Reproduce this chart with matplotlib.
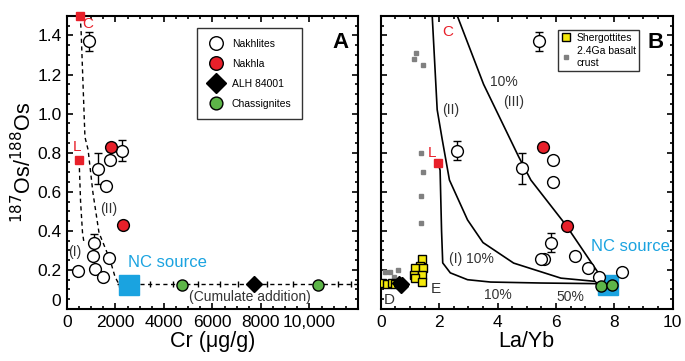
import numpy as np
import matplotlib
matplotlib.use("Agg")
import matplotlib.pyplot as plt
from matplotlib.ticker import MultipleLocator, FixedLocator, FixedFormatter

plt.rcParams['font.family'] = ['Liberation Sans', 'DejaVu Sans']

# ---------------- datos panel A (Cr vs 187Os/188Os) ----------------
nak_cr = [920, 1290, 1780, 2260, 1610, 1120, 1090, 1750, 470, 1160, 1500]
nak_os = [1.37, 0.718, 0.762, 0.81, 0.63, 0.337, 0.272, 0.26, 0.196, 0.203, 0.166]
nak_err = [0.05, 0.08, 0, 0.055, 0, 0.045, 0, 0, 0, 0, 0]
nakhla_cr = [1820, 2330]
nakhla_os = [0.827, 0.43]
nakhla_err = [0.02, 0]
alh_cr = [7730]
alh_os = [0.13]
chas_cr = [4750, 10370]
chas_os = [0.125, 0.125]
nc_cr, nc_os = 2560, 0.125
end_cr = [540, 500]
end_os = [1.5, 0.76]
curva2_cr = [540, 580, 740, 870, 1070, 1320, 1780, 1980, 2150]
curva2_os = [1.5, 1.43, 0.88, 0.815, 0.595, 0.39, 0.25, 0.165, 0.125]
curva1_cr = [500, 560, 640, 700]
curva1_os = [0.76, 0.55, 0.39, 0.34]
cumul_cr = [2050, 12000]
cumul_os = [0.128, 0.128]
marcas_cr = [2150, 3430, 4380, 5410, 6320, 7070, 8260, 9300, 11160, 11700]

# ---------------- datos panel B (La/Yb vs 187Os/188Os) ----------------
nakB_lay = [5.41, 2.62, 5.9, 4.83, 5.9, 5.83, 5.59, 5.48, 6.65, 7.1, 7.48, 8.28]
nakB_os = [1.37, 0.81, 0.76, 0.72, 0.65, 0.34, 0.255, 0.255, 0.27, 0.21, 0.165, 0.19]
nakB_err = [0.05, 0.05, 0, 0.08, 0, 0.05, 0, 0, 0, 0, 0, 0]
nakhlaB_lay = [5.55, 6.38]
nakhlaB_os = [0.83, 0.425]
chasB_lay = [7.55, 7.93]
chasB_os = [0.12, 0.125]
alhB_lay = [0.62, 0.7, 0.74]
alhB_os = [0.135, 0.12, 0.13]
sherg_lay = [0.03, 0.2, 0.37, 0.5, 1.41, 1.34, 1.17, 1.45, 1.14, 1.41, 1.17, 1.41]
sherg_os = [0.133, 0.13, 0.133, 0.128, 0.256, 0.22, 0.21, 0.21, 0.175, 0.175, 0.16, 0.138]
basalt_lay = [1.14, 1.2, 1.45, 1.38, 1.45, 1.38, 1.38, 0.14, 0.3, 0.58, 0.45]
basalt_os = [1.28, 1.31, 1.25, 0.80, 0.70, 0.58, 0.44, 0.19, 0.19, 0.2, 0.165]
ncB_lay, ncB_os = 7.8, 0.125
endB_lay = [1.97]
endB_os = [0.745]
c2_lay = [1.76, 1.93, 2.1, 2.35, 2.97, 3.5, 4.55, 6.17, 7.45, 7.75]
c2_os = [1.5, 1.02, 0.87, 0.66, 0.456, 0.34, 0.235, 0.158, 0.14, 0.13]
c1_lay = [1.97, 2.03, 2.08, 2.12, 2.38, 2.97, 3.76, 5.5, 7.3, 7.75]
c1_os = [0.745, 0.71, 0.4, 0.236, 0.185, 0.15, 0.138, 0.133, 0.13, 0.125]
c3_lay = [2.62, 3.52, 4.72, 5.14, 6.34, 7.45, 7.8]
c3_os = [1.5, 1.15, 0.78, 0.66, 0.43, 0.185, 0.15]

y_ticks = [0, 0.2, 0.4, 0.6, 0.8, 1.0, 1.2, 1.4]
y_etiq = ['0', '0.2', '0.4', '0.6', '0.8', '1.0', '1.2', '1.4']
xA_ticks = [0, 2000, 4000, 6000, 8000, 10000]
xA_etiq = ['0', '2000', '4000', '6000', '8000', '10,000']

rojo = '#e8202a'
verde = '#5db548'
cian = '#1aa3e0'
amarillo = '#f5e90c'
gris = '#808080'
texto = '#333333'

fig = plt.figure(figsize=(6.85, 3.61), dpi=100)
axA = fig.add_axes([0.0978, 0.144, 0.4248, 0.812])
axB = fig.add_axes([0.556, 0.144, 0.426, 0.812])

for ax in (axA, axB):
    ax.set_ylim(0, 1.5)
    ax.yaxis.set_major_locator(FixedLocator(y_ticks))
    ax.yaxis.set_minor_locator(MultipleLocator(0.05))
    ax.tick_params(which='both', direction='in', top=True, right=True, width=1.2)
    ax.tick_params(which='major', length=4, labelsize=12.5, pad=4)
    ax.tick_params(which='minor', length=2.5)
    for s in ax.spines.values():
        s.set_linewidth(1.5)

# ---------------- panel A ----------------
axA.set_xlim(0, 12000)
axA.xaxis.set_major_locator(FixedLocator(xA_ticks))
axA.xaxis.set_major_formatter(FixedFormatter(xA_etiq))
axA.xaxis.set_minor_locator(MultipleLocator(500))
axA.yaxis.set_major_formatter(FixedFormatter(y_etiq))
axA.yaxis.get_major_ticks()[0].label1.set_va('bottom')

axA.plot(curva2_cr, curva2_os, 'k--', lw=1, dashes=(3, 2.5), zorder=1)
axA.plot(curva1_cr, curva1_os, 'k--', lw=1, dashes=(3, 2.5), zorder=1)
axA.plot(cumul_cr, cumul_os, 'k--', lw=1, dashes=(3, 2.5), zorder=1)
axA.plot(marcas_cr, [0.128] * len(marcas_cr), 'k|', ms=5, mew=1, zorder=1)

h1 = axA.errorbar(nak_cr, nak_os, yerr=nak_err, fmt='o', mfc='white', mec='black',
                  ecolor='black', ms=8.5, mew=1, capsize=3, elinewidth=1, zorder=3)
h2 = axA.errorbar(nakhla_cr, nakhla_os, yerr=nakhla_err, fmt='o', mfc=rojo, mec='black',
                  ecolor='black', ms=8.5, mew=1, capsize=3, elinewidth=1, zorder=4)
h3, = axA.plot(alh_cr, alh_os, 'D', color='black', ms=8.5, zorder=4)
h4, = axA.plot(chas_cr, chas_os, 'o', mfc=verde, mec='black', ms=8, mew=1, zorder=4)
axA.plot([nc_cr], [nc_os], 's', color=cian, ms=14.5, zorder=4)
axA.plot(end_cr, end_os, 's', color=rojo, ms=6, clip_on=False, zorder=5)

axA.text(850, 1.46, 'C', color=rojo, fontsize=11, ha='center', va='center')
axA.text(400, 0.83, 'L', color=rojo, fontsize=11, ha='center', va='center')
axA.text(1700, 0.51, '(II)', color=texto, fontsize=10, ha='center', va='center')
axA.text(330, 0.29, '(I)', color=texto, fontsize=10, ha='center', va='center')
axA.text(4150, 0.24, 'NC source', color=cian, fontsize=12, ha='center', va='center')
axA.text(7550, 0.06, '(Cumulate addition)', color=texto, fontsize=10, ha='center', va='center')
axA.text(0.94, 0.91, 'A', transform=axA.transAxes, fontsize=16, fontweight='bold',
         ha='center', va='center')

axA.set_xlabel('Cr (μg/g)', fontsize=15.5, labelpad=1)
axA.set_ylabel(r'$^{187}$Os/$^{188}$Os', fontsize=15.5, labelpad=1)

legA = axA.legend([h1[0], h2[0], h3, h4], ['Nakhlites', 'Nakhla', 'ALH 84001', 'Chassignites'],
                  loc='upper left', bbox_to_anchor=(0.43, 0.975), fontsize=7.5,
                  frameon=True, fancybox=False, edgecolor='black', labelspacing=0.95,
                  handletextpad=0.8, borderpad=1.0, handlelength=1.5, markerscale=1.15)
legA.get_frame().set_linewidth(1)

# ---------------- panel B ----------------
axB.set_xlim(0, 10)
axB.xaxis.set_major_locator(MultipleLocator(2))
axB.xaxis.set_minor_locator(MultipleLocator(0.5))
axB.tick_params(axis='y', labelleft=False)

axB.plot(c2_lay, c2_os, 'k-', lw=1.2, zorder=1)
axB.plot(c1_lay, c1_os, 'k-', lw=1.2, zorder=1)
axB.plot(c3_lay, c3_os, 'k-', lw=1.2, zorder=1)

g1, = axB.plot(basalt_lay, basalt_os, 's', color=gris, ms=3.5, zorder=2)
g2, = axB.plot(sherg_lay, sherg_os, 's', mfc=amarillo, mec='black', ms=6, mew=1, zorder=3)
axB.plot(alhB_lay, alhB_os, 'D', color='black', ms=7.5, zorder=4)
axB.errorbar(nakB_lay, nakB_os, yerr=nakB_err, fmt='o', mfc='white', mec='black',
             ecolor='black', ms=8.5, mew=1, capsize=3, elinewidth=1, zorder=3)
axB.plot([ncB_lay], [ncB_os], 's', color=cian, ms=14.5, zorder=2)
axB.plot(nakhlaB_lay, nakhlaB_os, 'o', mfc=rojo, mec='black', ms=8.5, mew=1, zorder=4)
axB.plot(chasB_lay, chasB_os, 'o', mfc=verde, mec='black', ms=8, mew=1, zorder=4)
axB.plot(endB_lay, endB_os, 's', color=rojo, ms=6, zorder=5)

axB.text(2.28, 1.42, 'C', color=rojo, fontsize=11, ha='center', va='center')
axB.text(1.76, 0.80, 'L', color=rojo, fontsize=11, ha='center', va='center')
axB.text(2.4, 1.02, '(II)', color=texto, fontsize=10, ha='center', va='center')
axB.text(4.2, 1.16, '10%', color=texto, fontsize=10, ha='center', va='center')
axB.text(4.55, 1.06, '(III)', color=texto, fontsize=10, ha='center', va='center')
axB.text(3.1, 0.255, '(I) 10%', color=texto, fontsize=10, ha='center', va='center')
axB.text(4.0, 0.07, '10%', color=texto, fontsize=10, ha='center', va='center')
axB.text(6.5, 0.06, '50%', color=texto, fontsize=10, ha='center', va='center')
axB.text(8.55, 0.32, 'NC source', color=cian, fontsize=12, ha='center', va='center')
axB.text(0.28, 0.045, 'D', color=texto, fontsize=11, ha='center', va='center')
axB.text(1.9, 0.1, 'E', color=texto, fontsize=11, ha='center', va='center')
axB.text(0.94, 0.91, 'B', transform=axB.transAxes, fontsize=16, fontweight='bold',
         ha='center', va='center')

axB.set_xlabel('La/Yb', fontsize=15.5, labelpad=1)

legB = axB.legend([g2, g1], ['Shergottites', '2.4Ga basalt\ncrust'], loc='upper left',
                  bbox_to_anchor=(0.589, 0.97), fontsize=7.5, frameon=True, fancybox=False,
                  edgecolor='black', labelspacing=0.3, handletextpad=0.5, borderpad=0.3,
                  handlelength=1.0)
legB.get_frame().set_linewidth(1)

fig.savefig('out.png', dpi=100)
